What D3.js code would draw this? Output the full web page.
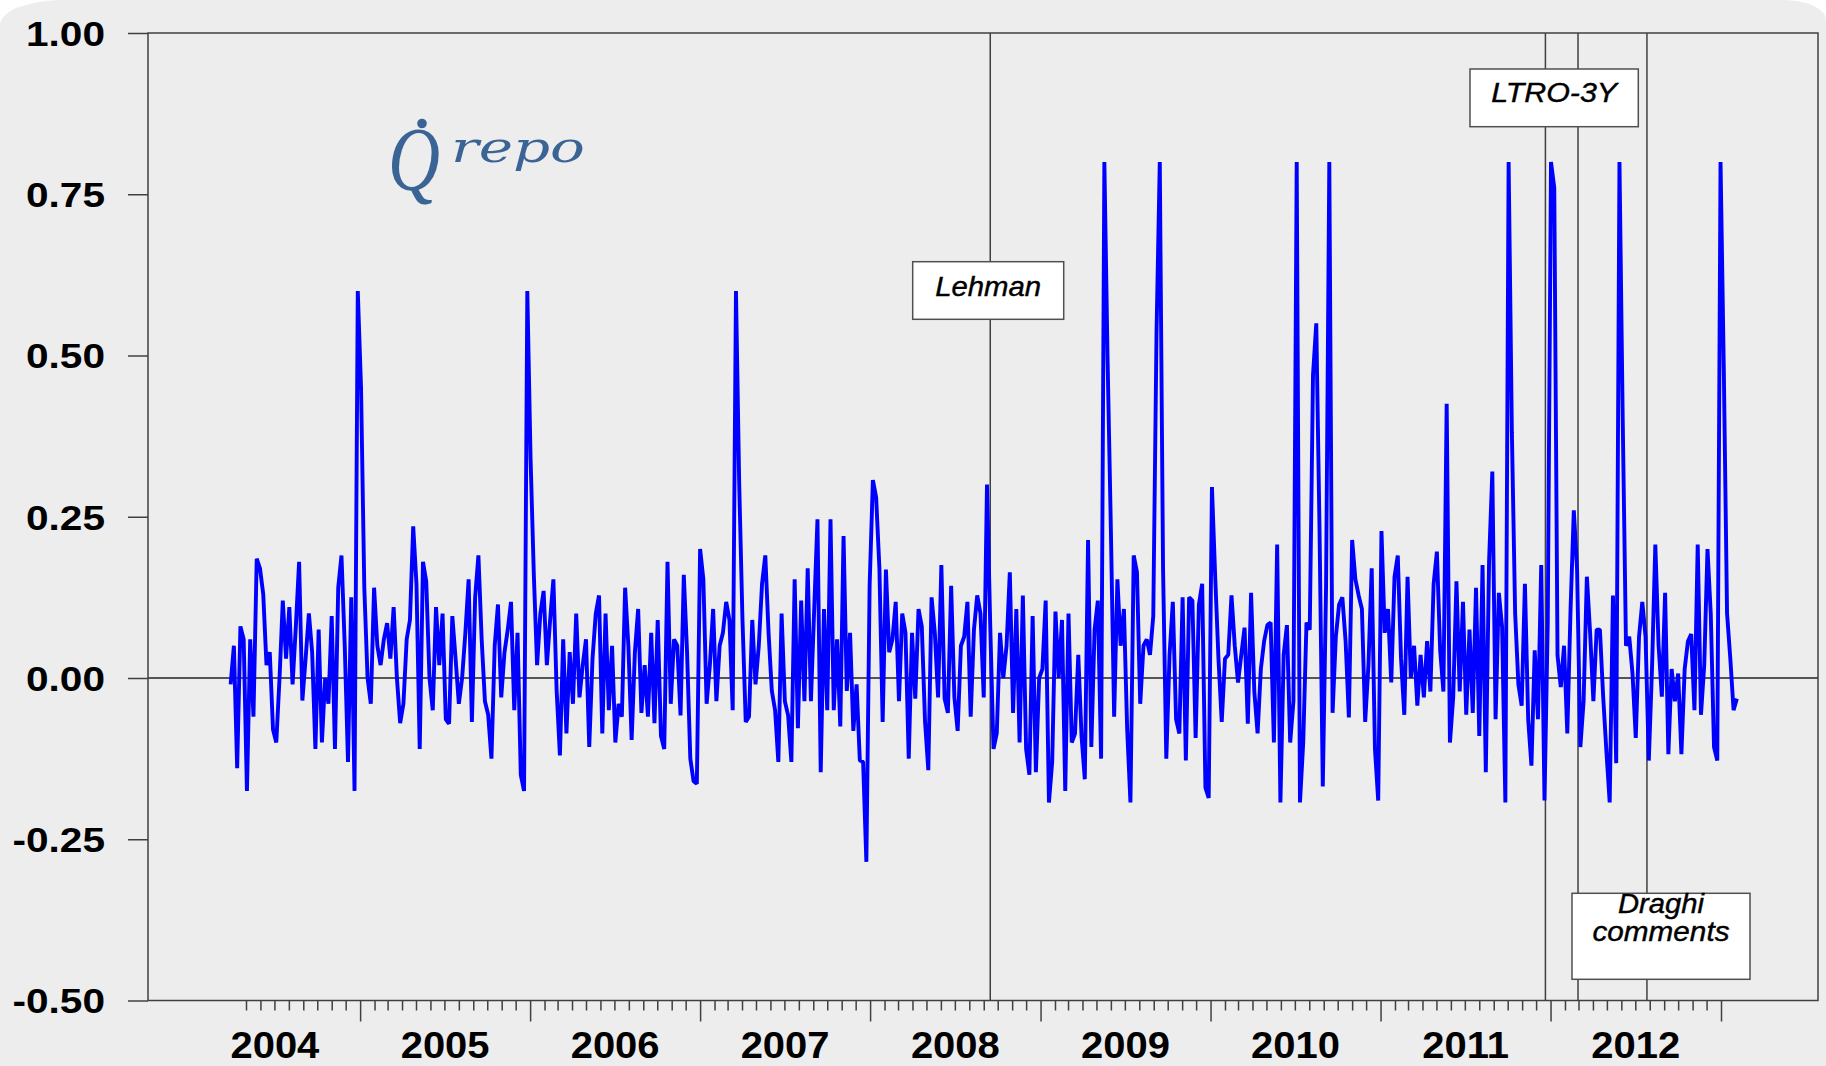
<!DOCTYPE html>
<html>
<head>
<meta charset="utf-8">
<script src="https://cdn.jsdelivr.net/npm/d3@7"></script>
<style>
html,body{margin:0;padding:0;background:#ffffff;}
svg{display:block;}
</style>
</head>
<body>
<svg id="chart" width="1826" height="1066"></svg>
<script>
// ---------------- DATA ----------------
const yTickValues = [1.00, 0.75, 0.50, 0.25, 0.00, -0.25, -0.50];
const yearLabels = ["2004","2005","2006","2007","2008","2009","2010","2011","2012"];
const eventDates = ["2008-09-15","2011-12-21","2012-02-29","2012-07-26"];
const annotationLabels = [["Lehman"],["LTRO-3Y"],["Draghi","comments"]];
const obsStart = "2004-03-29";
const obsStepDays = 7;
const qrepo = [
 -0.01,0.05,-0.14,0.08,0.06,-0.175,0.06,-0.06,0.185,0.17,
 0.13,0.02,0.04,-0.08,-0.10,0.0,0.12,0.03,0.11,-0.01,
 0.08,0.18,-0.035,0.03,0.10,0.04,-0.11,0.075,-0.10,0.0,
 -0.04,0.096,-0.11,0.14,0.19,0.05,-0.13,0.125,-0.175,0.60,
 0.45,0.14,0.0,-0.04,0.14,0.05,0.02,0.06,0.085,0.03,
 0.11,0.0,-0.07,-0.04,0.06,0.09,0.235,0.146,-0.11,0.18,
 0.15,0.0,-0.05,0.11,0.02,0.10,-0.064,-0.071,0.096,0.03,
 -0.04,0.0,0.07,0.153,-0.068,0.125,0.19,0.06,-0.036,-0.057,
 -0.125,0.05,0.114,-0.03,0.04,0.075,0.118,-0.05,0.07,-0.15,
 -0.175,0.60,0.34,0.16,0.02,0.10,0.135,0.02,0.09,0.153,
 -0.02,-0.12,0.06,-0.086,0.04,-0.04,0.10,-0.03,0.02,0.06,
 -0.107,0.03,0.10,0.128,-0.086,
 0.10,-0.05,0.05,-0.10,-0.04,-0.06,0.14,0.05,-0.096,0.04,
 0.107,-0.054,0.02,-0.06,0.07,-0.07,0.09,-0.09,-0.11,0.18,
 -0.04,0.06,0.05,-0.058,0.16,0.04,-0.125,-0.16,-0.164,0.20,
 0.153,-0.04,0.02,0.107,-0.036,0.05,0.07,0.118,0.09,-0.05,
 0.60,0.30,0.09,-0.068,-0.06,0.09,-0.01,0.05,0.146,0.19,
 0.07,-0.02,-0.05,-0.13,0.10,-0.036,-0.058,-0.13,0.153,-0.078,
 0.12,-0.036,0.17,-0.036,0.107,0.246,-0.146,0.107,-0.05,0.246,
 -0.05,0.06,-0.075,0.22,-0.02,0.07,-0.082,-0.01,-0.128,-0.13,
 -0.285,0.143,0.307,0.28,0.17,-0.068,0.168,0.04,0.06,0.118,
 -0.036,0.10,0.07,-0.125,0.07,-0.032,0.107,0.08,-0.068,-0.143,
 0.125,0.07,-0.03,0.175,-0.032,-0.054,0.143,-0.03,-0.082,0.05,
 0.064,0.118,-0.06,0.075,0.128,
 0.10,-0.03,0.30,0.08,-0.11,-0.086,0.07,0.0,0.05,0.164,
 -0.054,0.107,-0.10,0.128,-0.11,-0.15,0.096,-0.146,0.0,0.014,
 0.12,-0.193,-0.13,0.103,0.0,0.09,-0.175,0.10,-0.10,-0.086,
 0.036,-0.09,-0.157,0.214,-0.107,0.075,0.12,-0.125,0.80,0.49,
 0.23,-0.06,0.153,0.05,0.107,-0.08,-0.193,0.19,0.164,-0.04,
 0.05,0.06,0.036,0.096,0.535,0.80,0.17,-0.125,0.036,0.118,
 -0.064,-0.086,0.125,-0.128,0.125,0.12,-0.093,0.114,0.146,-0.17,
 -0.186,0.296,0.157,0.03,-0.068,0.03,0.036,0.128,0.05,-0.007,
 0.036,0.078,-0.071,0.132,-0.021,-0.086,0.014,0.057,0.082,0.086,
 -0.10,0.207,-0.193,0.036,0.082,-0.10,-0.036,0.80,-0.193,-0.10,
 0.086,0.075,0.47,0.55,0.23,-0.168,0.14,0.80,-0.054,0.064,
 0.114,0.125,0.057,-0.061,0.214,0.153,
 0.128,0.107,-0.068,0.02,0.17,-0.11,-0.19,0.228,0.07,0.107,
 -0.007,0.157,0.19,0.03,-0.057,0.157,0.0,0.05,-0.043,0.036,
 -0.03,0.057,-0.021,0.146,0.196,0.043,-0.021,0.425,-0.10,-0.03,
 0.15,-0.021,0.118,-0.057,0.075,-0.054,0.14,-0.09,0.175,-0.146,
 0.18,0.32,-0.064,0.132,0.079,-0.193,0.80,0.38,0.10,-0.01,
 -0.043,0.146,-0.064,-0.136,0.043,-0.064,0.175,-0.19,0.086,0.80,
 0.76,0.035,-0.014,0.05,-0.086,0.107,0.26,0.168,-0.107,-0.036,
 0.157,0.07,-0.036,0.075,0.075,-0.029,-0.114,-0.193,0.128,-0.132,
 0.80,0.40,0.05,0.064,0.007,-0.093,0.064,0.118,0.064,-0.128,
 0.018,0.207,0.05,-0.029,0.132,-0.118,0.014,-0.036,0.007,-0.118,
 0.014,0.057,0.068,-0.05,0.207,-0.057,0.02,0.20,0.10,-0.107,
 -0.128,0.80,0.48,0.10,0.03,-0.05,-0.032
];

// ---------------- LAYOUT ----------------
const W = 1826, H = 1066;
const plot = {left:148, right:1818, top:33, bottom:1000.5};
const frameColor = "#404040";
const bgGray = "#ededed";

const svg = d3.select("#chart");

// outer rounded panel
const tl = {rx:63, ry:25}, tr = {rx:43, ry:20};
svg.append("path")
  .attr("d", `M${tl.rx},0 L${W-tr.rx},0 A${tr.rx},${tr.ry} 0 0 1 ${W},${tr.ry} L${W},${H} L0,${H} L0,${tl.ry} A${tl.rx},${tl.ry} 0 0 1 ${tl.rx},0 Z`)
  .attr("fill", bgGray);

const parse = d3.timeParse("%Y-%m-%d");
const x = d3.scaleTime()
  .domain([new Date(2004,0,1), new Date(2013,0,1)])
  .range([189.65, 1721]);
const y = d3.scaleLinear().domain([-0.5, 1.0]).range([plot.bottom, plot.top]);

const start = parse(obsStart);
const series = qrepo.map((v,i)=>({date:d3.timeDay.offset(start, i*obsStepDays), v}));

// zero line
svg.append("line")
  .attr("x1", plot.left).attr("x2", plot.right)
  .attr("y1", y(0)).attr("y2", y(0))
  .attr("stroke", "#222").attr("stroke-width", 1.3);

// event lines
const events = eventDates.map(parse);
svg.append("g").selectAll("line").data(events).join("line")
  .attr("x1", d=>x(d)).attr("x2", d=>x(d))
  .attr("y1", plot.top).attr("y2", plot.bottom)
  .attr("stroke", frameColor).attr("stroke-width", 1.5);

// data line
const line = d3.line().x(d=>x(d.date)).y(d=>y(d.v));
svg.append("path").datum(series)
  .attr("d", line)
  .attr("fill","none")
  .attr("stroke","#0000ff")
  .attr("stroke-width",3.9)
  .attr("stroke-linejoin","bevel");

// frame
svg.append("rect")
  .attr("x", plot.left).attr("y", plot.top)
  .attr("width", plot.right-plot.left).attr("height", plot.bottom-plot.top)
  .attr("fill","none").attr("stroke", frameColor).attr("stroke-width", 1.5);

// y axis
const fmt = d3.format(".2f");
const yAxis = d3.axisLeft(y).tickValues(yTickValues).tickSize(20).tickPadding(0)
  .tickFormat(d=>fmt(d).replace("\u2212","-"));
const yg = svg.append("g").attr("transform", `translate(${plot.left},0)`).call(yAxis);
yg.select(".domain").remove();
yg.selectAll(".tick line").attr("stroke", frameColor).attr("stroke-width",1.5);
yg.selectAll(".tick text")
  .attr("x", -43/1.16).attr("dy", null).attr("y", 12.3)
  .attr("transform","scale(1.16,1)")
  .attr("fill","#000")
  .style("font-family","'Liberation Sans', Arial, sans-serif")
  .style("font-weight","bold")
  .style("font-size","35px");

// x axis: monthly minor ticks, yearly major ticks
const minorTicks = d3.timeMonth.range(new Date(2004,4,1), new Date(2013,0,2))
  .filter(d=>d.getMonth()!==0);
const majorTicks = d3.timeYear.range(new Date(2005,0,1), new Date(2013,0,2));
const xMinor = d3.axisBottom(x).tickValues(minorTicks).tickSize(10).tickFormat("");
const xMajor = d3.axisBottom(x).tickValues(majorTicks).tickSize(21).tickFormat("");
[xMinor, xMajor].forEach(ax=>{
  const g = svg.append("g").attr("transform",`translate(0,${plot.bottom})`).call(ax);
  g.select(".domain").remove();
  g.selectAll(".tick line").attr("stroke", frameColor).attr("stroke-width",1.5);
});
// year labels centred in each year
svg.append("g").selectAll("text").data(yearLabels).join("text")
  .attr("transform", d=>{
    const yr = +d;
    const cx = (x(new Date(yr,0,1)) + x(new Date(yr+1,0,1)))/2;
    return `translate(${cx},1058) scale(1.08,1)`;
  })
  .attr("text-anchor","middle")
  .style("font-family","'Liberation Sans', Arial, sans-serif")
  .style("font-weight","bold")
  .style("font-size","37px")
  .attr("fill","#000")
  .text(d=>d);

// annotation boxes
const boxes = [
  {lines:annotationLabels[0], x0:912.7, x1:1063.7, y0:261.7, y1:319.3, base:[296], widths:[106]},
  {lines:annotationLabels[1], x0:1470, x1:1638.3, y0:69, y1:126.7, base:[101.5], widths:[126]},
  {lines:annotationLabels[2], x0:1572, x1:1750, y0:893.3, y1:979.3, base:[912.5,941], widths:[86,137]}
];
const bg = svg.append("g");
boxes.forEach(b=>{
  bg.append("rect").attr("x",b.x0).attr("y",b.y0)
    .attr("width",b.x1-b.x0).attr("height",b.y1-b.y0)
    .attr("fill","#fff").attr("stroke","#505050").attr("stroke-width",1.5);
  const cx = (b.x0+b.x1)/2;
  b.lines.forEach((t,k)=>{
    bg.append("text").attr("x",cx).attr("y",b.base[k])
      .attr("text-anchor","middle")
      .attr("textLength", b.widths[k]).attr("lengthAdjust","spacingAndGlyphs")
      .style("font-family","'Liberation Sans', Arial, sans-serif")
      .style("font-style","italic")
      .style("font-size","27px")
      .attr("fill","#000")
      .attr("stroke","#000").attr("stroke-width",0.4)
      .text(t);
  });
});

// title  Q-dot ^ repo
const titleColor = "#3b6496";
const tg = svg.append("g").attr("fill", titleColor)
  .style("font-style","italic");
tg.append("text").attr("x",388).attr("y",190)
  .style("font-family","'Liberation Serif',serif")
  .style("font-size","90px")
  .attr("textLength",52).attr("lengthAdjust","spacingAndGlyphs")
  .text("Q");
tg.append("circle").attr("cx",422).attr("cy",123.5).attr("r",4.8);
tg.append("text").attr("x",451).attr("y",161.7)
  .style("font-family","'DejaVu Serif',serif")
  .style("font-size","42px")
  .attr("textLength",134).attr("lengthAdjust","spacingAndGlyphs")
  .text("repo");
</script>
</body>
</html>
